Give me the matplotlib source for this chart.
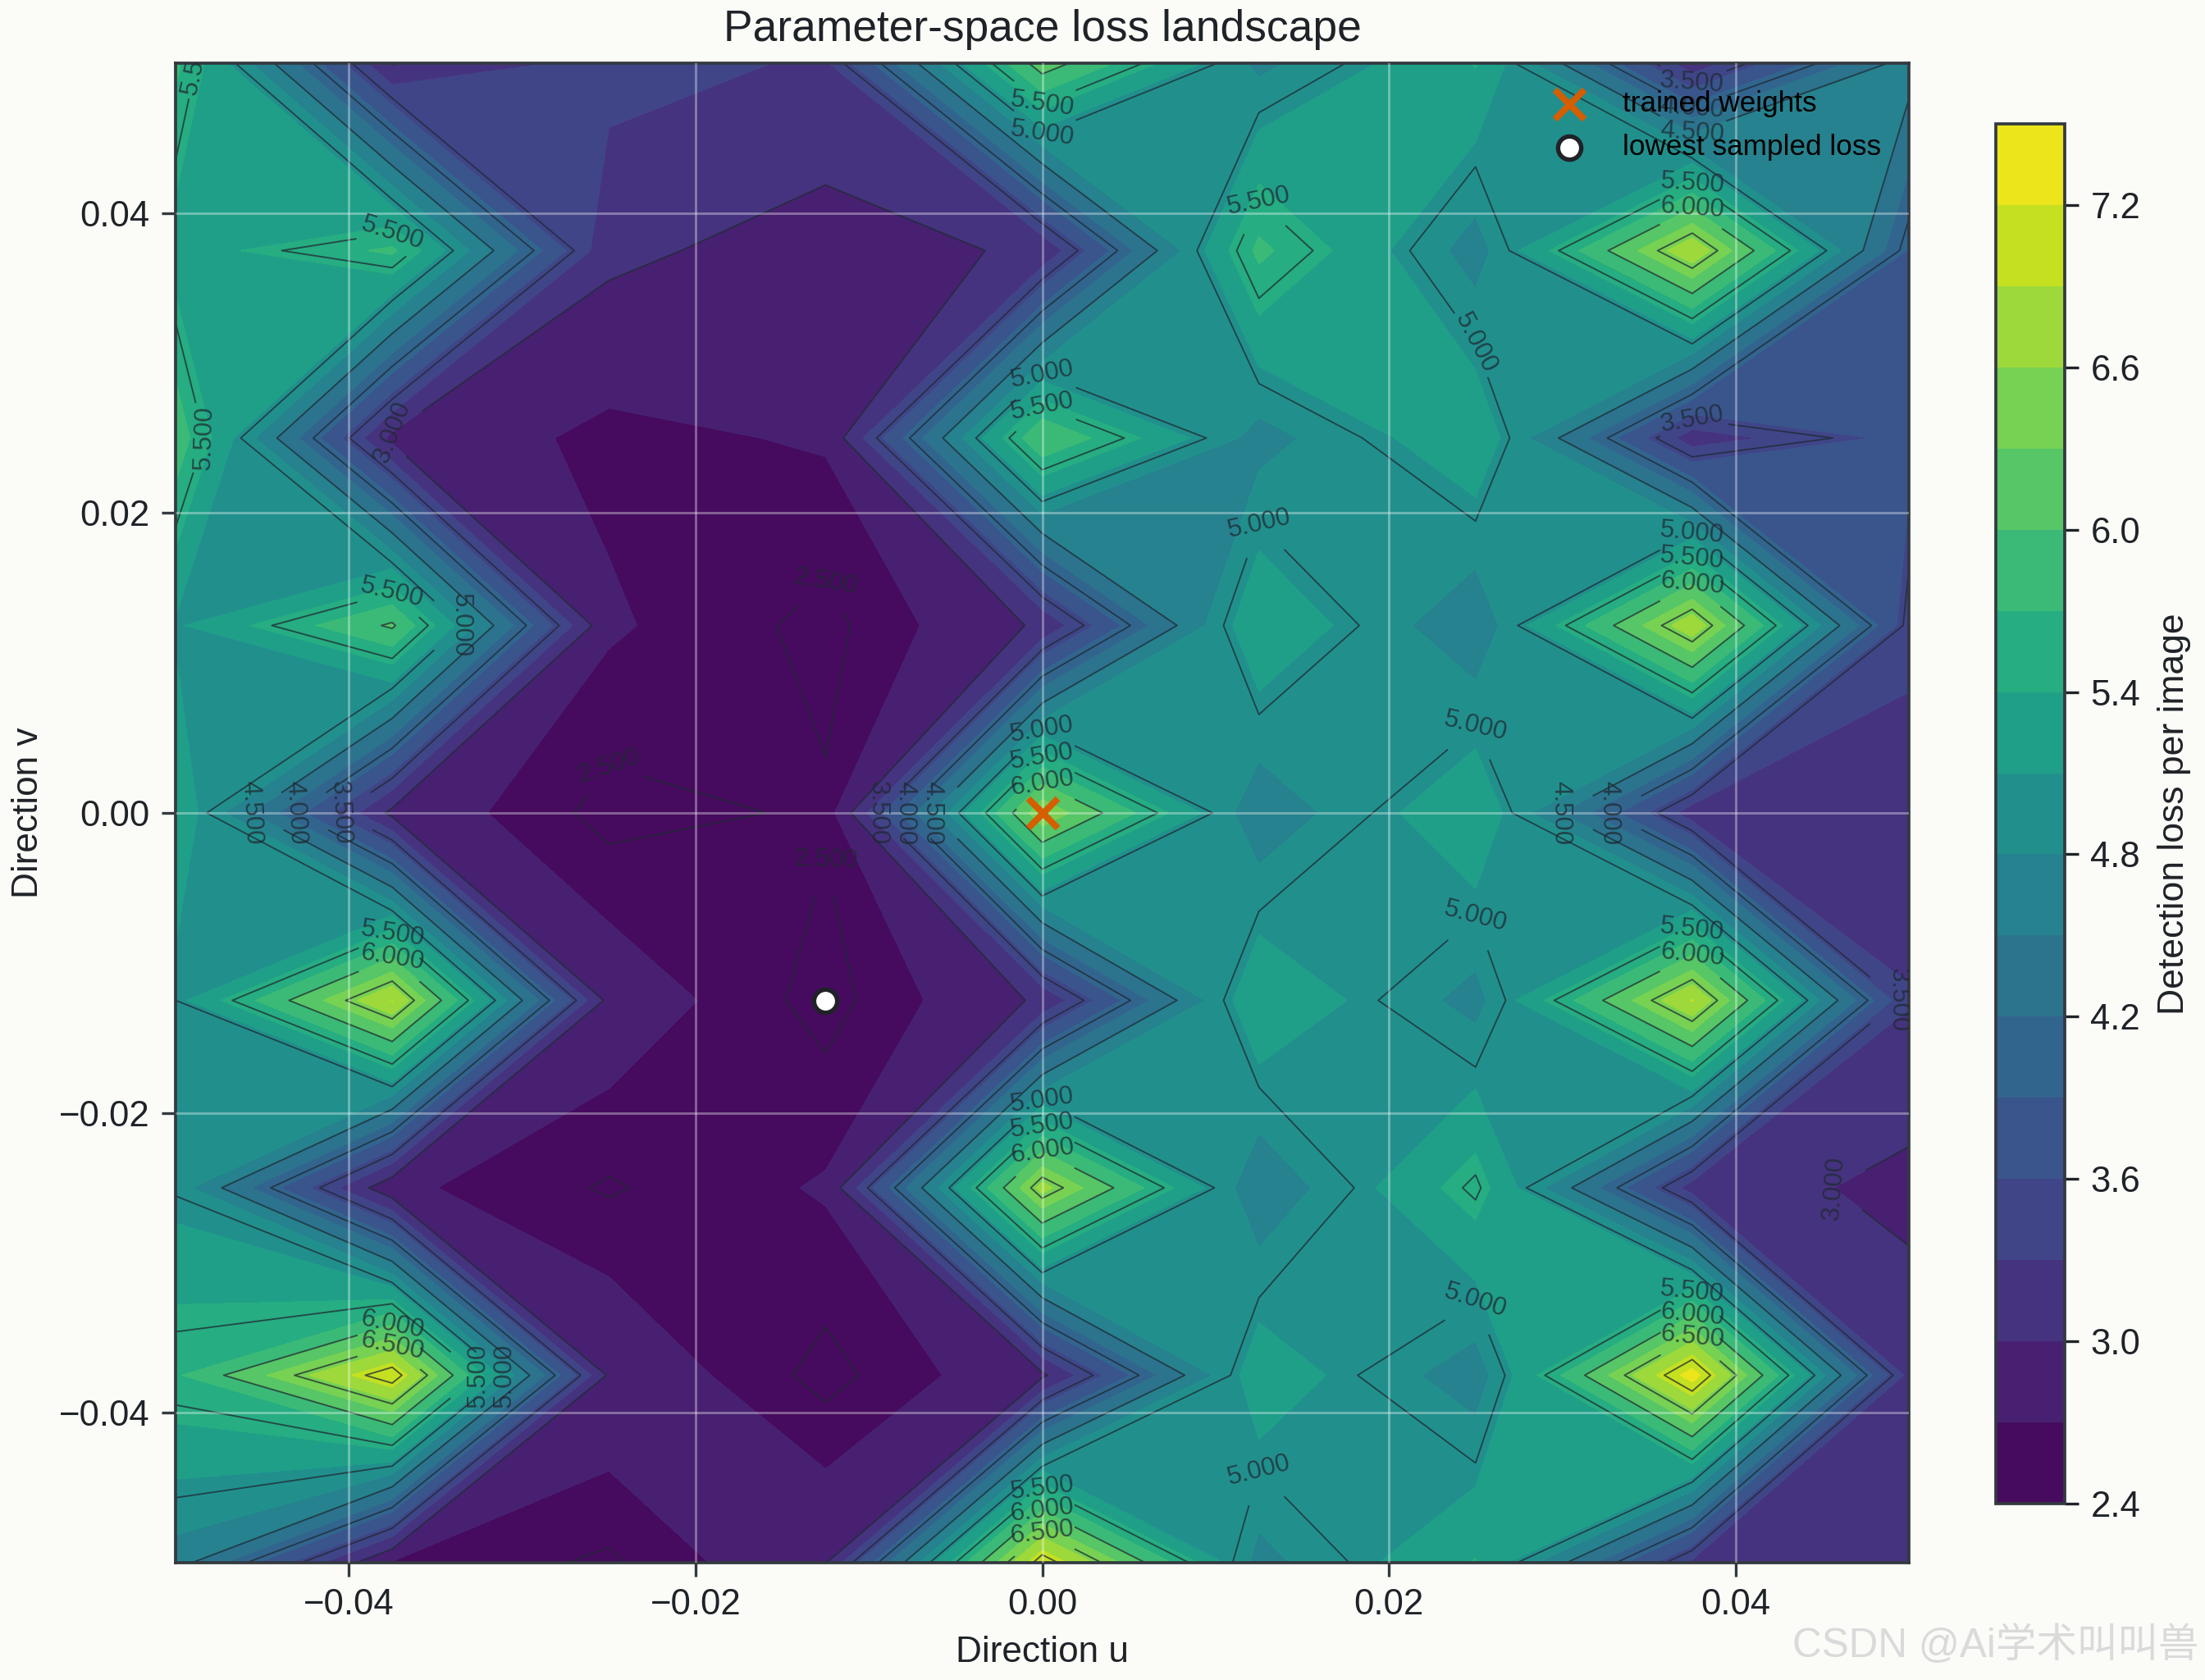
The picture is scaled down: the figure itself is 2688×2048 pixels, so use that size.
import numpy as np
import matplotlib
matplotlib.use('Agg')
import matplotlib.pyplot as plt

u = [-0.05, -0.0375, -0.025, -0.0125, 0.0, 0.0125, 0.025, 0.0375, 0.05]
v = [-0.05, -0.0375, -0.025, -0.0125, 0.0, 0.0125, 0.025, 0.0375, 0.05]

# one row per v value, bottom to top
loss_m050 = [4.65, 2.67, 2.46, 2.98, 7.18, 4.70, 5.42, 3.23, 3.15]
loss_m038 = [5.66, 7.19, 2.95, 2.42, 2.94, 5.31, 4.63, 7.35, 3.20]
loss_m025 = [4.97, 2.76, 2.475, 2.73, 6.71, 4.56, 5.56, 3.17, 2.91]
loss_m012 = [5.00, 6.91, 2.90, 2.41, 3.05, 5.38, 4.69, 6.92, 3.32]
loss_000 = [5.35, 2.92, 2.42, 2.53, 6.55, 4.58, 5.38, 3.14, 3.10]
loss_p012 = [5.06, 6.05, 2.74, 2.43, 3.05, 5.38, 4.56, 6.82, 3.41]
loss_p025 = [5.90, 2.91, 2.63, 2.73, 6.00, 4.68, 5.35, 3.13, 3.70]
loss_p038 = [5.25, 5.76, 3.07, 2.86, 3.05, 5.78, 4.66, 6.85, 3.87]
loss_p050 = [5.77, 2.98, 3.42, 3.26, 6.18, 4.72, 5.42, 3.10, 4.65]

fill_levels = [2.4, 2.7, 3.0, 3.3, 3.6, 3.9, 4.2, 4.5, 4.8, 5.1, 5.4, 5.7, 6.0, 6.3, 6.6, 6.9, 7.2, 7.5]
line_levels = [2.5, 3.0, 3.5, 4.0, 4.5, 5.0, 5.5, 6.0, 6.5, 7.0]
cbar_ticks = [2.4, 3.0, 3.6, 4.2, 4.8, 5.4, 6.0, 6.6, 7.2]

trained_uv = (0.0, 0.0)
lowest_uv = (-0.0125, -0.0125)

Z = np.array([loss_m050, loss_m038, loss_m025, loss_m012, loss_000,
              loss_p012, loss_p025, loss_p038, loss_p050])
X, Y = np.meshgrid(u, v)

plt.rcParams['font.family'] = ['Liberation Sans', 'DejaVu Sans']
BG = '#fbfcf8'
EDGE = '#333a40'
INK = '#1f2328'

W, H = 2688, 2048
fig = plt.figure(figsize=(W / 300, H / 300), dpi=300, facecolor=BG)
ax = fig.add_axes([214 / W, 1 - 1905 / H, (2327 - 214) / W, (1905 - 77) / H])
cax = fig.add_axes([2433 / W, 1 - 1833 / H, (2517 - 2433) / W, (1833 - 151) / H])

cf = ax.contourf(X, Y, Z, levels=fill_levels, cmap='viridis')
cs = ax.contour(X, Y, Z, levels=line_levels, colors='#1f2933', linewidths=0.45, alpha=0.75)
ax.clabel(cs, inline=True, fontsize=7.5, fmt='%.3f')

ax.grid(True, color='white', alpha=0.35, linewidth=0.7)
ax.set_axisbelow(False)

ax.scatter(*trained_uv, marker='x', s=75, color='#d55e00', linewidths=1.9, zorder=5, label='trained weights')
ax.scatter(*lowest_uv, marker='o', s=46, color='white', edgecolors=INK, linewidths=1.3, zorder=5,
           label='lowest sampled loss')

ax.set_title('Parameter-space loss landscape', fontsize=12.8, color=INK, pad=6.5)
ax.set_xlabel('Direction u', fontsize=10.6, color=INK, labelpad=4)
ax.set_ylabel('Direction v', fontsize=10.6, color=INK, labelpad=4)
ax.set_xticks([-0.04, -0.02, 0.0, 0.02, 0.04])
ax.set_yticks([-0.04, -0.02, 0.0, 0.02, 0.04])
ax.tick_params(labelsize=10.5, colors=INK, width=0.8, length=4, color=EDGE)
for s in ax.spines.values():
    s.set_color(EDGE)
    s.set_linewidth(0.9)

ax.legend(loc='upper right', frameon=False, fontsize=8.45, labelcolor='black', borderaxespad=0.55,
          labelspacing=0.55, handletextpad=0.85)

cb = fig.colorbar(cf, cax=cax, ticks=cbar_ticks)
cb.set_label('Detection loss per image', fontsize=10.7, color=INK, labelpad=5)
cb.ax.tick_params(labelsize=10.5, colors=INK, width=0.8, length=4)
cb.outline.set_edgecolor(EDGE)
cb.outline.set_linewidth(0.9)

fig.text(0.997, 0.009, 'CSDN @Ai学术叫叫兽', ha='right', va='bottom', fontsize=11.9, color='#dadada',
         family=['Liberation Sans', 'Noto Sans CJK SC'])

fig.savefig('out.png', dpi=300, facecolor=BG)
